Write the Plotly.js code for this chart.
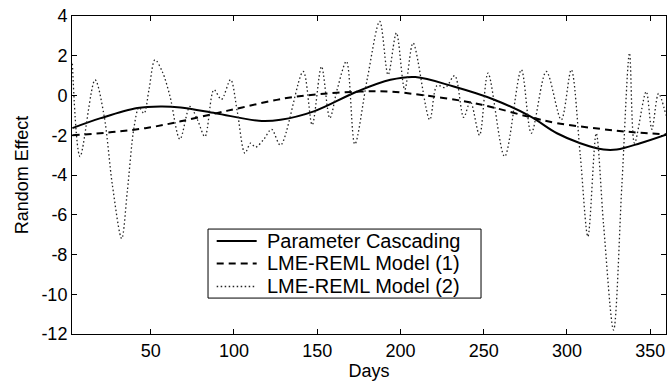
<!DOCTYPE html>
<html>
<head>
<meta charset="utf-8">
<script src="https://cdn.plot.ly/plotly-3.0.1.min.js"></script>
<style>html,body{margin:0;padding:0;background:#fff;}#chart{width:668px;height:385px;}</style>
</head>
<body>
<div id="chart"></div>
<script>
// Parameter Cascading (solid)
var pcDays = [3, 20, 42, 56, 68, 89, 115, 128, 148, 174, 194, 209, 232, 256, 278, 294, 308, 322, 330, 344, 359.5];
var pcValues = [-1.64, -1.14, -0.63, -0.55, -0.6, -0.89, -1.27, -1.22, -0.8, 0.2, 0.79, 0.93, 0.45, -0.2, -1.05, -1.9, -2.4, -2.72, -2.72, -2.4, -1.97];

// LME-REML Model (1) (dashed)
var m1Days = [3, 30, 50, 68, 89, 105, 130, 152, 176, 194, 215, 239, 257, 278, 294, 320, 340, 359.5];
var m1Values = [-2.0, -1.82, -1.6, -1.3, -0.9, -0.6, -0.15, 0.07, 0.2, 0.2, 0.0, -0.3, -0.63, -1.09, -1.39, -1.68, -1.85, -1.95];

// LME-REML Model (2) (dotted)
var m2Days = [3, 7.6, 16.6, 22, 27, 32.6, 36, 40, 43, 46, 49, 52.6, 57, 61.5, 67.6, 73.6, 78, 82.6, 88, 92.5, 98, 102, 106.6, 110, 113, 118, 122.6, 128, 141.6, 147, 152.6, 157.6, 162, 167.6, 172.6, 180, 187.6, 192.6, 197.6, 202.6, 207.6, 217.6, 222, 227, 232.6, 238, 242, 247.5, 252.6, 262.6, 272.6, 278.6, 287.6, 296.6, 302.6, 308, 312.6, 317.6, 322, 328, 333, 337.6, 340.6, 347.6, 351, 355, 359.5];
var m2Values = [1.6, -3.07, 0.79, -1.0, -4.5, -7.2, -4.8, -1.6, -0.6, -0.9, 0.3, 1.8, 1.2, 0.0, -2.2, -0.55, -1.2, -2.07, 0.29, -0.2, 0.8, -0.8, -2.9, -2.4, -2.6, -2.2, -1.7, -2.5, 1.21, -1.48, 1.46, -1.14, 0.3, 1.72, -2.45, 0.8, 3.73, 1.04, 3.15, 0.29, 2.64, -1.22, 0.5, 0.4, 1.0, -1.1, -0.3, -2.0, 1.13, -3.07, 1.3, -1.9, 1.21, -1.22, 1.3, -3.0, -7.1, -1.9, -6.5, -11.8, -4.5, 2.14, -2.4, 0.2, -1.7, 0.1, -1.0];

var seriesNames = ["Parameter Cascading", "LME-REML Model (1)", "LME-REML Model (2)"];
var xTicks = [50, 100, 150, 200, 250, 300, 350];
var yTicks = [-12, -10, -8, -6, -4, -2, 0, 2, 4];
var yTickText = ["-12", "-10", "-8", "-6", "-4", "-2", "0", "2", "4"];

var fam = "Liberation Sans, Arial, sans-serif";
var font = {family: fam, size: 18, color: "#000"};
var legFont = {family: fam, size: 20, color: "#000"};

var styles = [
  {color: "#000", width: 2, dash: "solid"},
  {color: "#000", width: 2, dash: "7px,5px"},
  {color: "#222", width: 1.3, dash: "1.5px,2.5px"}
];

var traces = [
  {x: pcDays, y: pcValues, name: seriesNames[0], mode: "lines",
   line: {color: styles[0].color, width: styles[0].width, dash: styles[0].dash, shape: "spline", smoothing: 1}},
  {x: m1Days, y: m1Values, name: seriesNames[1], mode: "lines",
   line: {color: styles[1].color, width: styles[1].width, dash: styles[1].dash, shape: "spline", smoothing: 1}},
  {x: m2Days, y: m2Values, name: seriesNames[2], mode: "lines",
   line: {color: styles[2].color, width: styles[2].width, dash: styles[2].dash, shape: "spline", smoothing: 0.9}}
];

// Legend box drawn in paper coordinates (MATLAB-style compact legend)
var legBox = {x0: 0.229, x1: 0.6886, y0: 0.113, y1: 0.330};
var legRowsY = [0.2925, 0.2218, 0.1494];
var legSampleX = [0.2436, 0.3109];
var legTextX = 0.3249;

var shapes = [{type: "rect", xref: "paper", yref: "paper",
  x0: legBox.x0, x1: legBox.x1, y0: legBox.y0, y1: legBox.y1,
  line: {color: "#000", width: 1}, fillcolor: "#fff", layer: "above"}];
var annotations = [];
for (var i = 0; i < seriesNames.length; i++) {
  shapes.push({type: "line", xref: "paper", yref: "paper",
    x0: legSampleX[0], x1: legSampleX[1], y0: legRowsY[i], y1: legRowsY[i],
    line: styles[i], layer: "above"});
  annotations.push({xref: "paper", yref: "paper", x: legTextX, y: legRowsY[i],
    xanchor: "left", yanchor: "middle", showarrow: false, text: seriesNames[i], font: legFont});
}

var layout = {
  width: 668, height: 385,
  margin: {l: 72, r: 2, t: 16, b: 51},
  paper_bgcolor: "#fff", plot_bgcolor: "#fff",
  font: font,
  showlegend: false,
  shapes: shapes,
  annotations: annotations,
  xaxis: {range: [2.76, 359.5], tickvals: xTicks, ticks: "inside", ticklen: 5,
          tickcolor: "#000", showline: true, linecolor: "#000", linewidth: 1,
          mirror: "ticks", showgrid: false, zeroline: false,
          tickfont: font, title: {text: "Days", font: font, standoff: 4}},
  yaxis: {range: [-12, 4], tickvals: yTicks, ticktext: yTickText, ticks: "inside", ticklen: 5,
          tickcolor: "#000", showline: true, linecolor: "#000", linewidth: 1,
          mirror: "ticks", showgrid: false, zeroline: false,
          tickfont: font, title: {text: "Random Effect", font: font, standoff: 8}}
};

Plotly.newPlot("chart", traces, layout, {staticPlot: true, displayModeBar: false});
</script>
</body>
</html>
